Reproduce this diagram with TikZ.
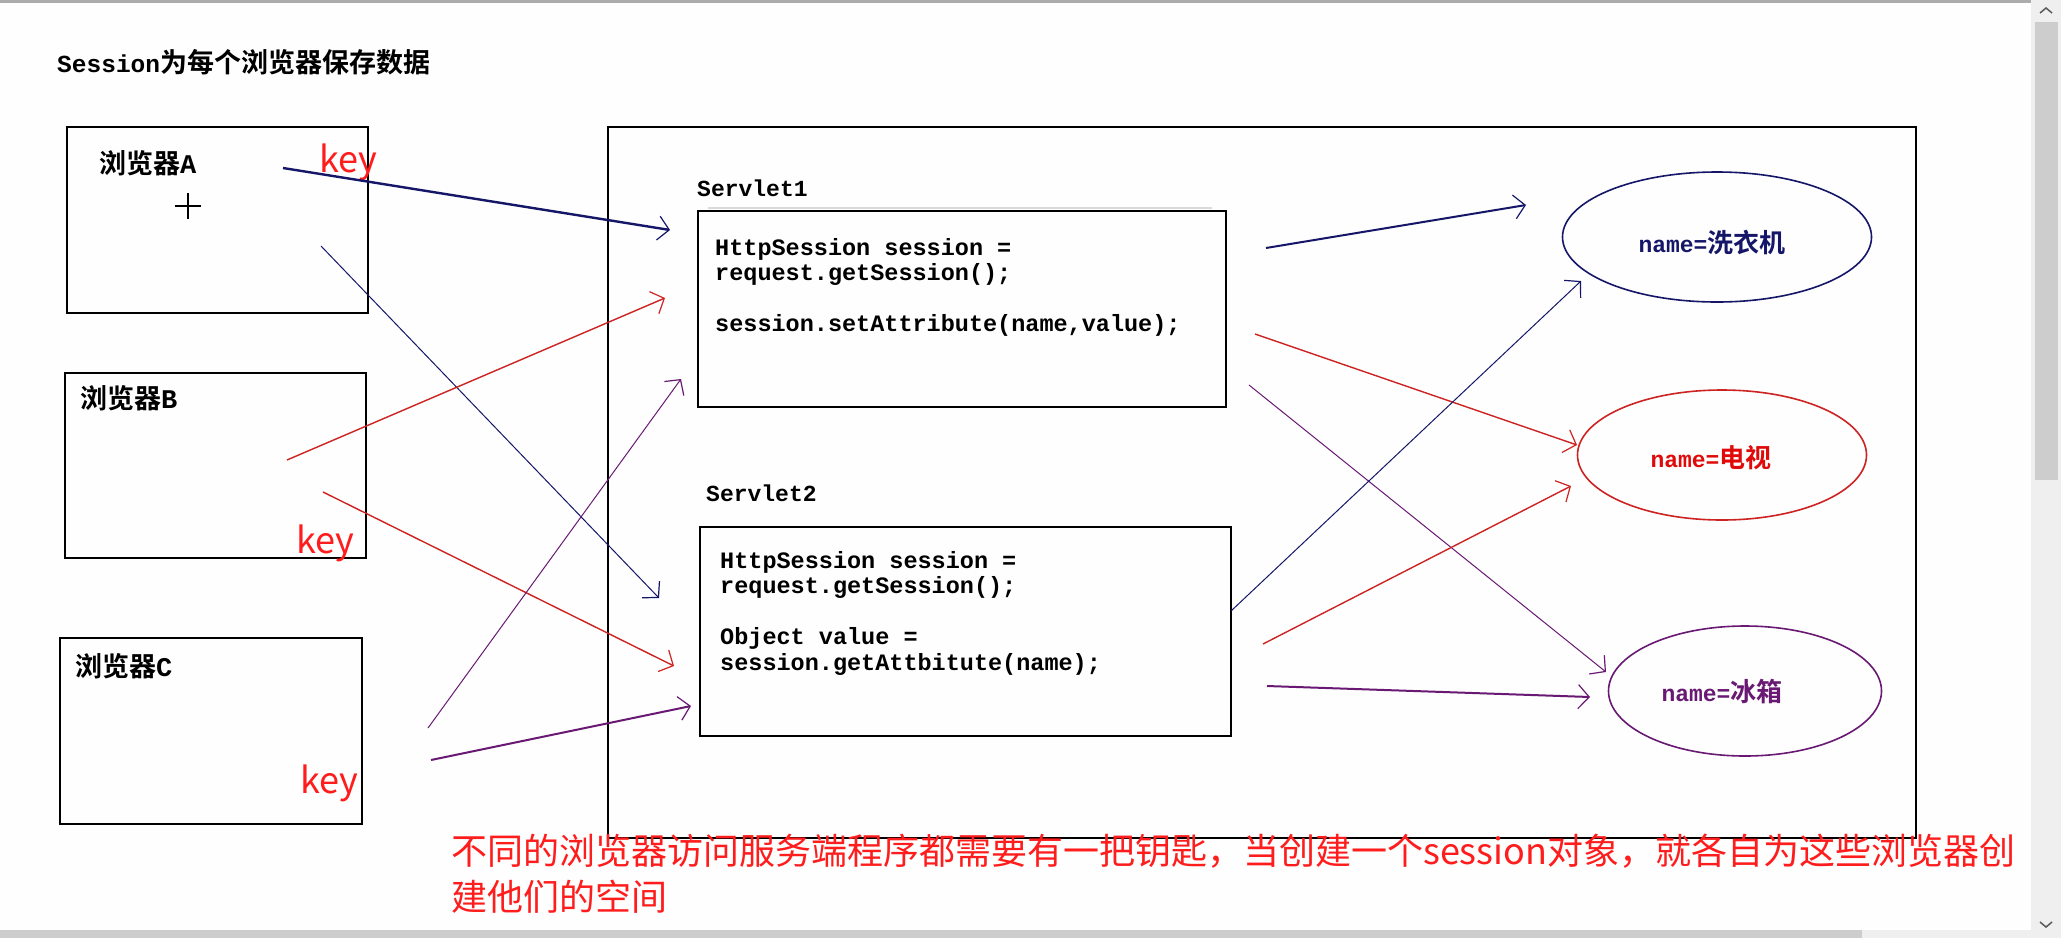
\documentclass[tikz,border=0pt]{standalone}
\usepackage{fontspec}
\setmainfont{Liberation Mono}
\newfontfamily\mono{Liberation Mono}
\newfontfamily\cjk{Noto Sans CJK SC}[BoldFont={Noto Sans CJK SC Bold}]
\usetikzlibrary{arrows.meta,shapes.geometric}
\definecolor{myNavy}{RGB}{22,22,105}
\definecolor{myRed}{RGB}{205,35,35}
\definecolor{myPurple}{RGB}{105,25,115}
\definecolor{noteRed}{RGB}{255,28,28}
\definecolor{tvRed}{RGB}{225,10,10}
\definecolor{pageBg}{RGB}{253,254,253}
\definecolor{barTrack}{RGB}{239,239,239}
\definecolor{barThumb}{RGB}{205,205,205}
\begin{document}
\begin{tikzpicture}[x=1pt,y=-1pt,
  box/.style={draw=black,line width=2pt},
  arr/.style={-{Straight Barb[length=11pt,width=24pt,line width=1.2pt]}},
  thinline/.style={line width=1pt},
  thickline/.style={line width=2.4pt},
  codetxt/.style={anchor=base west,inner sep=0pt,font=\mono\bfseries\fontsize{23.5}{25}\selectfont},
  lbltxt/.style={anchor=base west,inner sep=0pt},
  keytxt/.style={anchor=base west,inner sep=0pt,text=noteRed,font=\cjk\fontsize{36}{40}\selectfont},
  ell/.style={ellipse,draw,line width=1.6pt,inner sep=0pt},
  elltxt/.style={inner sep=0pt}
]
% page and window chrome
\fill[pageBg] (0,0) rectangle (2061,938);
\useasboundingbox (0,0) rectangle (2061,938);
\fill[gray!65] (0,0) rectangle (2031,3);
\fill[barTrack] (2031,0) rectangle (2061,938);
\fill[barThumb] (2035,22) rectangle (2058,480);
\draw[gray!70!black,line width=1.5pt] (2040,13) -- (2046,8) -- (2052,13);
\draw[gray!70!black,line width=1.5pt] (2040,922) -- (2046,927) -- (2052,922);
\fill[barTrack] (0,930) rectangle (2031,938);
\fill[barThumb] (0,930) rectangle (1862,938);

% title
\node[lbltxt] (title) at (57,72) {\bfseries\mono\fontsize{24.5}{26}\selectfont Session\cjk\fontsize{27}{29}\selectfont 为每个浏览器保存数据};

% browsers
\node[box,minimum width=301pt,minimum height=186pt,anchor=north west] (bA) at (66,126) {};
\node[box,minimum width=301pt,minimum height=185pt,anchor=north west] (bB) at (64,372) {};
\node[box,minimum width=302pt,minimum height=186pt,anchor=north west] (bC) at (59,637) {};
\node[lbltxt] (lA) at (99,173) {\cjk\bfseries\fontsize{27}{29}\selectfont 浏览器\mono A};
\node[lbltxt] (lB) at (80,408) {\cjk\bfseries\fontsize{27}{29}\selectfont 浏览器\mono B};
\node[lbltxt] (lC) at (75,676) {\cjk\bfseries\fontsize{27}{29}\selectfont 浏览器\mono C};
\node[keytxt] (kA) at (319,172) {key};
\node[keytxt] (kB) at (296,553) {key};
\node[keytxt] (kC) at (300,793) {key};
\coordinate (cross) at (188,206);
\draw[line width=1.3pt] ([xshift=-13pt]cross) -- ([xshift=13pt]cross);
\draw[line width=1.3pt] ([yshift=-13pt]cross) -- ([yshift=13pt]cross);

% server area
\node[box,minimum width=1308pt,minimum height=711pt,anchor=north west] (server) at (607,126) {};

% servlet 1
\node[lbltxt] (s1lbl) at (697,196) {\mono\bfseries\fontsize{23}{25}\selectfont Servlet1};
\draw[gray!30,line width=2.5pt] (708,208) -- (1212,208);
\node[box,minimum width=528pt,minimum height=196pt,anchor=north west] (s1) at (697,210) {};
\node[codetxt] (s1c1) at (715,255) {HttpSession session =};
\node[codetxt] (s1c2) at (715,280) {request.getSession();};
\node[codetxt] (s1c3) at (715,331) {session.setAttribute(name,value);};

% servlet 2
\node[lbltxt] (s2lbl) at (706,501) {\mono\bfseries\fontsize{23}{25}\selectfont Servlet2};
\node[draw=black,line width=1.6pt,minimum width=531pt,minimum height=209pt,anchor=north west] (s2) at (699,526) {};
\node[codetxt] (s2c1) at (720,568) {HttpSession session =};
\node[codetxt] (s2c2) at (720,593) {request.getSession();};
\node[codetxt] (s2c3) at (720,644) {Object value =};
\node[codetxt] (s2c4) at (720,670) {session.getAttbitute(name);};

% attribute ellipses
\node[ell,draw=myNavy,minimum width=309pt,minimum height=130pt] (e1) at (1717,237) {};
\node[ell,draw=myRed,minimum width=289pt,minimum height=130pt] (e2) at (1722,455) {};
\node[ell,draw=myPurple,minimum width=273pt,minimum height=130pt] (e3) at (1745,691) {};
\node[elltxt,text=myNavy] (e1t) at (1712,242)
  {\mono\bfseries\fontsize{23}{25}\selectfont name=\cjk\fontsize{26}{28}\selectfont 洗衣机};
\node[elltxt,text=tvRed] (e2t) at (1711,458)
  {\mono\bfseries\fontsize{23}{25}\selectfont name=\cjk\fontsize{26}{28}\selectfont 电视};
\node[elltxt,text=myPurple] (e3t) at (1722,692)
  {\mono\bfseries\fontsize{23}{25}\selectfont name=\cjk\fontsize{26}{28}\selectfont 冰箱};

% connector end points
\coordinate (a1s) at (283,168);  \coordinate (a1e) at (670,230);
\coordinate (a2s) at (321,246);  \coordinate (a2e) at (659,598);
\coordinate (a3s) at (287,460);  \coordinate (a3e) at (665,298);
\coordinate (a4s) at (323,492);  \coordinate (a4e) at (674,666);
\coordinate (a5s) at (428,728);  \coordinate (a5e) at (681,379);
\coordinate (a6s) at (431,760);  \coordinate (a6e) at (691,706);
\coordinate (b1s) at (1266,248); \coordinate (b1e) at (1526,205);
\coordinate (b2s) at (1255,334); \coordinate (b2e) at (1577,445);
\coordinate (b3s) at (1249,385); \coordinate (b3e) at (1606,672);
\coordinate (b4s) at (1231,611); \coordinate (b4e) at (1581,281);
\coordinate (b5s) at (1263,644); \coordinate (b5e) at (1571,486);
\coordinate (b6s) at (1267,686); \coordinate (b6e) at (1590,697);

% browser -> servlet
\draw[arr,thickline,myNavy] (a1s) -- (a1e);
\draw[arr,thinline,myNavy] (a2s) -- (a2e);
\draw[arr,myRed,line width=1.4pt] (a3s) -- (a3e);
\draw[arr,myRed,line width=1.4pt] (a4s) -- (a4e);
\draw[arr,thinline,myPurple] (a5s) -- (a5e);
\draw[arr,myPurple,line width=2pt] (a6s) -- (a6e);

% servlet -> attribute
\draw[arr,myNavy,line width=2pt] (b1s) -- (b1e);
\draw[arr,myRed,line width=1.4pt] (b2s) -- (b2e);
\draw[arr,thinline,myPurple] (b3s) -- (b3e);
\draw[arr,thinline,myNavy] (b4s) -- (b4e);
\draw[arr,myRed,line width=1.4pt] (b5s) -- (b5e);
\draw[arr,myPurple,line width=2pt] (b6s) -- (b6e);

% annotation
\node[lbltxt,text=noteRed,font=\cjk\fontsize{36}{47}\selectfont] (note1) at (451,864) {不同的浏览器访问服务端程序都需要有一把钥匙，当创建一个session对象，就各自为这些浏览器创};
\node[lbltxt,text=noteRed,font=\cjk\fontsize{36}{47}\selectfont] (note2) at (451,910) {建他们的空间};
\end{tikzpicture}
\end{document}
